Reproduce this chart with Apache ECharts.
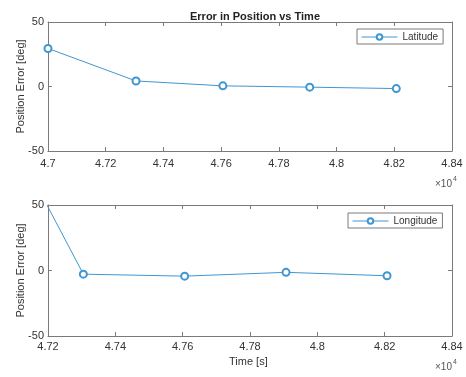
<!DOCTYPE html>
<html>
<head>
<meta charset="utf-8">
<script src="https://cdn.jsdelivr.net/npm/echarts@6/dist/echarts.min.js"></script>
<style>
  html, body { margin: 0; padding: 0; background: #fff; }
  #chart { width: 466px; height: 377px; }
</style>
</head>
<body>
<div id="chart"></div>
<script>
// sample times [s], shared by both panels
const timeS = [47000, 47305, 47606, 47907, 48207]
const latitudeErr = [29.5, 4.3, 0.5, -0.5, -1.6]
const longitudeErr = [146, -2.8, -4.3, -1.4, -4.0]

const topXRange = [47000, 48400]
const bottomXRange = [47200, 48400]
const xTickStep = 200
const yRange = [-50, 50]
const yTickStep = 50

const lineColor = '#3f97d2'
const axisColor = '#7a7a7a'
const textColor = '#333'
const font = '"Liberation Sans", Arial, sans-serif'

const chart = echarts.init(document.getElementById('chart'))

function pairs(xs, ys) {
  return xs.map((x, i) => [x, ys[i]])
}

function xAxes(gridIndex, range, labelMargin) {
  const base = {
    type: 'value',
    gridIndex,
    min: range[0],
    max: range[1],
    interval: xTickStep,
    axisLine: { onZero: false, lineStyle: { color: axisColor, width: 1 } },
    axisTick: { inside: true, length: 4, lineStyle: { color: axisColor } },
    splitLine: { show: false },
  }
  return [
    {
      ...base,
      position: 'bottom',
      axisLabel: {
        color: textColor,
        fontFamily: font,
        fontSize: 11,
        margin: labelMargin,
        formatter: (v) => String(+(v / 1e4).toFixed(2)),
      },
    },
    { ...base, position: 'top', axisLabel: { show: false } },
  ]
}

function yAxes(gridIndex) {
  const base = {
    type: 'value',
    gridIndex,
    min: yRange[0],
    max: yRange[1],
    interval: yTickStep,
    axisLine: { onZero: false, lineStyle: { color: axisColor, width: 1 } },
    axisTick: { inside: true, length: 4, lineStyle: { color: axisColor } },
    splitLine: { show: false },
  }
  return [
    {
      ...base,
      position: 'left',
      name: 'Position Error [deg]',
      nameLocation: 'middle',
      nameGap: 22,
      nameMoveOverlap: false,
      nameTextStyle: { color: textColor, fontFamily: font, fontSize: 11 },
      axisLabel: { color: textColor, fontFamily: font, fontSize: 11, margin: 4 },
    },
    { ...base, position: 'right', axisLabel: { show: false } },
  ]
}

function lineSeries(name, axisIdx, data) {
  return {
    name,
    type: 'line',
    xAxisIndex: axisIdx,
    yAxisIndex: axisIdx,
    data,
    symbol: 'emptyCircle',
    symbolSize: 7,
    clip: true,
    lineStyle: { color: lineColor, width: 1 },
    itemStyle: { color: lineColor, borderWidth: 0.7 },
  }
}

const legendBase = {
  orient: 'horizontal',
  backgroundColor: '#fff',
  borderColor: axisColor,
  borderWidth: 1,
  borderRadius: 0,
  itemWidth: 36,
  itemHeight: 7,
  padding: [3, 5, 2, 4],
  lineStyle: { width: 1, color: lineColor },
  itemStyle: { color: lineColor, borderWidth: 0.7 },
  textStyle: { color: textColor, fontFamily: font, fontSize: 10 },
}

const tenPow = (y) => ({
  type: 'group',
  left: 435,
  top: y,
  children: [
    { type: 'text', left: 0, top: 3, style: { text: '×10', fill: '#555', font: '10px ' + font } },
    { type: 'text', left: 18, top: 0, style: { text: '4', fill: '#555', font: '7px ' + font } },
  ],
})

chart.setOption({
  backgroundColor: '#fff',
  animation: false,
  title: {
    text: 'Error in Position vs Time',
    left: 250,
    top: 6,
    textAlign: 'center',
    textStyle: { color: '#222', fontFamily: font, fontSize: 11, fontWeight: 'bold' },
  },
  grid: [
    { left: 48, right: 14, top: 22, height: 129 },
    { left: 48, right: 14, top: 205, height: 131 },
  ],
  xAxis: [...xAxes(0, topXRange, 7), ...xAxes(1, bottomXRange, 5)],
  yAxis: [...yAxes(0), ...yAxes(1)],
  legend: [
    { ...legendBase, data: ['Latitude'], left: 357, top: 29 },
    { ...legendBase, data: ['Longitude'], left: 348, top: 213 },
  ],
  graphic: [
    tenPow(176),
    tenPow(359),
    {
      type: 'text',
      left: 229,
      top: 356,
      style: { text: 'Time [s]', fill: textColor, font: '11px ' + font },
    },
  ],
  series: [
    lineSeries('Latitude', 0, pairs(timeS, latitudeErr)),
    lineSeries('Longitude', 2, pairs(timeS, longitudeErr)),
  ],
})
</script>
</body>
</html>
